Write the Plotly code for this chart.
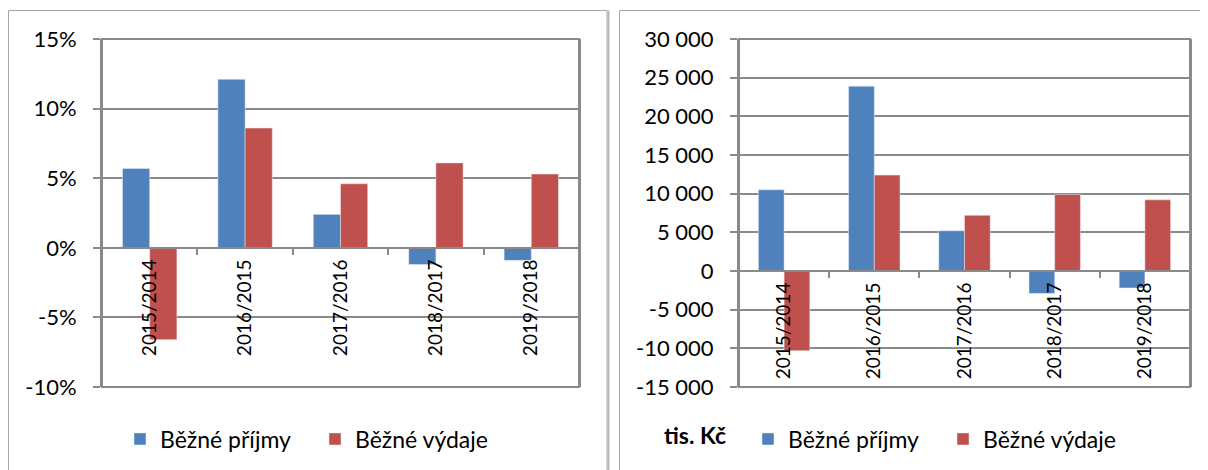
import plotly.graph_objects as go

# ---- data ----
categories = ["2015/2014", "2016/2015", "2017/2016", "2018/2017", "2019/2018"]
pct_prijmy = [5.7, 12.1, 2.4, -1.2, -0.9]
pct_vydaje = [-6.6, 8.6, 4.6, 6.1, 5.3]
abs_prijmy = [10500, 23900, 5200, -2900, -2200]
abs_vydaje = [-10300, 12400, 7200, 9900, 9200]
pct_ticks = [-10, -5, 0, 5, 10, 15]
pct_ticklabels = ["-10%", "-5%", "0%", "5%", "10%", "15%"]
abs_ticks = [-15000, -10000, -5000, 0, 5000, 10000, 15000, 20000, 25000, 30000]
abs_ticklabels = ["-15 000", "-10 000", "-5 000", "0", "5 000", "10 000",
                  "15 000", "20 000", "25 000", "30 000"]
series_names = ["Běžné příjmy", "Běžné výdaje"]
unit_label = "tis. Kč"

BLUE = "#4F81BD"
RED = "#C0504D"
GRID = "#8a8a8a"
# the page body has an 8px margin, so the figure is drawn 8px smaller and offset
OFF = 8
W, H = 1208 - OFF, 470 - OFF

def px_x(x):
    return (x - OFF) / W

def px_y(y):
    return 1 - (y - OFF) / H

ydom = [px_y(387), px_y(39)]
xdom1 = [px_x(102), px_x(579)]
xdom2 = [px_x(739), px_x(1190)]

pct_range = [pct_ticks[0], pct_ticks[-1]]
abs_range = [abs_ticks[0], abs_ticks[-1]]

def zero_pos(r):
    return ydom[0] + (ydom[1] - ydom[0]) * (0 - r[0]) / (r[1] - r[0])

fig = go.Figure()
fig.add_trace(go.Bar(x=categories, y=pct_prijmy, name=series_names[0], marker_color=BLUE,
                     xaxis="x", yaxis="y", legend="legend"))
fig.add_trace(go.Bar(x=categories, y=pct_vydaje, name=series_names[1], marker_color=RED,
                     xaxis="x", yaxis="y", legend="legend"))
fig.add_trace(go.Bar(x=categories, y=abs_prijmy, name=series_names[0], marker_color=BLUE,
                     xaxis="x2", yaxis="y2", legend="legend2"))
fig.add_trace(go.Bar(x=categories, y=abs_vydaje, name=series_names[1], marker_color=RED,
                     xaxis="x2", yaxis="y2", legend="legend2"))

xcommon = dict(type="category", showline=True, linecolor=GRID, linewidth=2,
               ticks="outside", tickson="boundaries", ticklen=6, tickcolor=GRID, tickwidth=2,
               tickangle=-90, showgrid=False, zeroline=False, anchor="free", automargin=False,
               tickfont=dict(family="Lato", size=19, color="black"),
               ticklabelstandoff=3, fixedrange=True)
ycommon = dict(showline=True, linecolor=GRID, linewidth=2, mirror=True, automargin=False,
               ticks="outside", ticklen=7, tickcolor=GRID, tickwidth=2,
               showgrid=True, gridcolor=GRID, gridwidth=2, zeroline=False,
               tickfont=dict(family="Lato", size=22, color="black"),
               ticklabelstandoff=12, domain=ydom, fixedrange=True)

legend_common = dict(orientation="h", xanchor="left", yanchor="middle",
                     font=dict(family="Lato", size=23, color="black"), bgcolor="rgba(0,0,0,0)",
                     entrywidth=150, entrywidthmode="pixels", itemwidth=30)

fig.update_layout(
    width=W, height=H,
    margin=dict(l=0, r=0, t=0, b=0, autoexpand=False),
    paper_bgcolor="white", plot_bgcolor="white",
    barmode="group", bargap=0.43, bargroupgap=0,
    xaxis=dict(domain=xdom1, position=zero_pos(pct_range), **xcommon),
    xaxis2=dict(domain=xdom2, position=zero_pos(abs_range), **xcommon),
    yaxis=dict(anchor="x", range=pct_range, tickvals=pct_ticks, ticktext=pct_ticklabels, **ycommon),
    yaxis2=dict(anchor="x2", range=abs_range, tickvals=abs_ticks, ticktext=abs_ticklabels, **ycommon),
    legend=dict(x=px_x(120), y=px_y(439), **legend_common),
    legend2=dict(x=px_x(748), y=px_y(439), **legend_common),
    showlegend=True,
)

# frames around plot areas
for xr, yr in [("x domain", "y domain"), ("x2 domain", "y2 domain")]:
    fig.add_shape(type="rect", xref=xr, yref=yr, x0=0, x1=1, y0=0, y1=1,
                  line=dict(color=GRID, width=2), layer="below")

# panel borders
fig.add_shape(type="rect", xref="paper", yref="paper", x0=px_x(8.5), x1=px_x(607), y0=-0.1, y1=px_y(10.5),
              line=dict(color="#a6a6a6", width=1))
fig.add_shape(type="line", xref="paper", yref="paper", x0=px_x(608.5), x1=px_x(608.5), y0=-0.1, y1=px_y(10.5),
              line=dict(color="#b8b8b8", width=2))
fig.add_shape(type="rect", xref="paper", yref="paper", x0=px_x(619.5), x1=1.1, y0=-0.1, y1=px_y(10.5),
              line=dict(color="#a6a6a6", width=1))

fig.add_annotation(text="<b>" + unit_label + "</b>", xref="paper", yref="paper",
                   x=px_x(662), y=px_y(435), xanchor="left", yanchor="middle", showarrow=False,
                   font=dict(family="Lato", size=23, color="black"))

fig.write_html("out.html")
